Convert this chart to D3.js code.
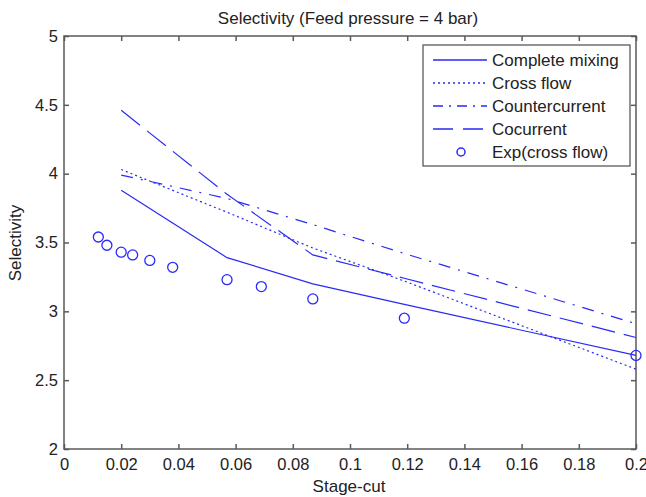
<!DOCTYPE html>
<html>
<head>
<meta charset="utf-8">
<script src="https://cdn.jsdelivr.net/npm/d3@7"></script>
<style>
  html, body { margin: 0; padding: 0; background: #fff; }
  svg { display: block; }
  text { font-family: "Liberation Sans", Arial, Helvetica, sans-serif; fill: #222; }
</style>
</head>
<body>
<svg id="chart" width="646" height="497"></svg>
<script>
// ---- data ----
const xModel = [0.02, 0.057, 0.087, 0.119, 0.2];
const completeMixing = [3.88, 3.39, 3.20, 3.05, 2.68];
const crossFlow = [4.03, 3.72, 3.46, 3.22, 2.58];
const counterCurrent = [3.99, 3.82, 3.63, 3.42, 2.91];
const coCurrent = [4.46, 3.85, 3.41, 3.24, 2.81];
const expX = [0.012, 0.015, 0.020, 0.024, 0.030, 0.038, 0.057, 0.069, 0.087, 0.119, 0.2];
const expY = [3.54, 3.48, 3.43, 3.41, 3.37, 3.32, 3.23, 3.18, 3.09, 2.95, 2.68];
const xTicks = [0, 0.02, 0.04, 0.06, 0.08, 0.1, 0.12, 0.14, 0.16, 0.18, 0.2];
const xTickLabels = ["0", "0.02", "0.04", "0.06", "0.08", "0.1", "0.12", "0.14", "0.16", "0.18", "0.2"];
const yTicks = [2, 2.5, 3, 3.5, 4, 4.5, 5];
const yTickLabels = ["2", "2.5", "3", "3.5", "4", "4.5", "5"];
const seriesNames = ["Complete mixing", "Cross flow", "Countercurrent", "Cocurrent", "Exp(cross flow)"];

const svg = d3.select("#chart");
const L = 64, R = 636, T = 36, B = 449;
const blue = "#2a2af5";
const axisColor = "#5a5a5a";
const x = d3.scaleLinear().domain([0, 0.2]).range([L, R]);
const y = d3.scaleLinear().domain([2, 5]).range([B, T]);

const fsTick = 16.5, fs = 17;

function styleAxis(g) {
  g.select(".domain").remove();
  g.selectAll(".tick line").attr("stroke", axisColor).attr("stroke-width", 1.5);
}
svg.append("g").attr("transform", `translate(0,${B})`)
  .call(d3.axisBottom(x).tickValues(xTicks).tickSize(-5).tickPadding(9)
    .tickFormat((d, i) => xTickLabels[i]))
  .call(styleAxis)
  .call(g => g.selectAll("text").attr("font-size", fsTick).attr("fill", "#222")
    .attr("font-family", null));
svg.append("g").attr("transform", `translate(0,${T})`)
  .call(d3.axisTop(x).tickValues(xTicks).tickSize(-5).tickFormat(""))
  .call(styleAxis);
svg.append("g").attr("transform", `translate(${L},0)`)
  .call(d3.axisLeft(y).tickValues(yTicks).tickSize(-5).tickPadding(6)
    .tickFormat((d, i) => yTickLabels[i]))
  .call(styleAxis)
  .call(g => g.selectAll("text").attr("font-size", fsTick).attr("fill", "#222")
    .attr("font-family", null));
svg.append("g").attr("transform", `translate(${R},0)`)
  .call(d3.axisRight(y).tickValues(yTicks).tickSize(-5).tickFormat(""))
  .call(styleAxis);

svg.append("rect").attr("x", L).attr("y", T).attr("width", R - L).attr("height", B - T)
  .attr("fill", "none").attr("stroke", axisColor).attr("stroke-width", 1.5);

// lines
const styles = [
  { data: completeMixing, dash: null, ldash: null },
  { data: crossFlow, dash: "2 3", ldash: "2 3" },
  { data: counterCurrent, dash: "12 8 2 8", ldash: "10 6 2 6" },
  { data: coCurrent, dash: "24 9", ldash: "20 10" }
];
const line = d3.line().x(d => x(d[0])).y(d => y(d[1]));
const plot = svg.append("g");
styles.forEach(s => {
  plot.append("path")
    .attr("d", line(xModel.map((v, i) => [v, s.data[i]])))
    .attr("fill", "none").attr("stroke", blue).attr("stroke-width", 1.2)
    .attr("stroke-dasharray", s.dash);
});
plot.selectAll("circle.exp").data(expX.map((v, i) => [v, expY[i]])).join("circle")
  .attr("class", "exp")
  .attr("cx", d => x(d[0])).attr("cy", d => y(d[1])).attr("r", 5)
  .attr("fill", "none").attr("stroke", blue).attr("stroke-width", 1.3);

// title and labels
svg.append("text").attr("x", 348).attr("y", 24).attr("text-anchor", "middle")
  .attr("font-size", fs).text("Selectivity (Feed pressure = 4 bar)");
svg.append("text").attr("x", 349).attr("y", 492).attr("text-anchor", "middle")
  .attr("font-size", fs).text("Stage-cut");
svg.append("text").attr("transform", `translate(21,243) rotate(-90)`)
  .attr("text-anchor", "middle").attr("font-size", fs).text("Selectivity");

// legend
const lg = svg.append("g");
const lx = 423, ly = 45, lw = 207, lh = 121;
lg.append("rect").attr("x", lx).attr("y", ly).attr("width", lw).attr("height", lh)
  .attr("fill", "#fff").attr("stroke", axisColor).attr("stroke-width", 1.3);
const rowY = i => 60 + i * 23;
styles.forEach((s, i) => {
  lg.append("line").attr("x1", 433).attr("x2", 487).attr("y1", rowY(i)).attr("y2", rowY(i))
    .attr("stroke", blue).attr("stroke-width", 1.3)
    .attr("stroke-dasharray", s.ldash);
});
lg.append("circle").attr("cx", 461).attr("cy", rowY(4)).attr("r", 4)
  .attr("fill", "none").attr("stroke", blue).attr("stroke-width", 1.5);
seriesNames.forEach((n, i) => {
  lg.append("text").attr("x", 492).attr("y", rowY(i)).attr("dy", "0.35em")
    .attr("font-size", fs).text(n);
});
</script>
</body>
</html>
